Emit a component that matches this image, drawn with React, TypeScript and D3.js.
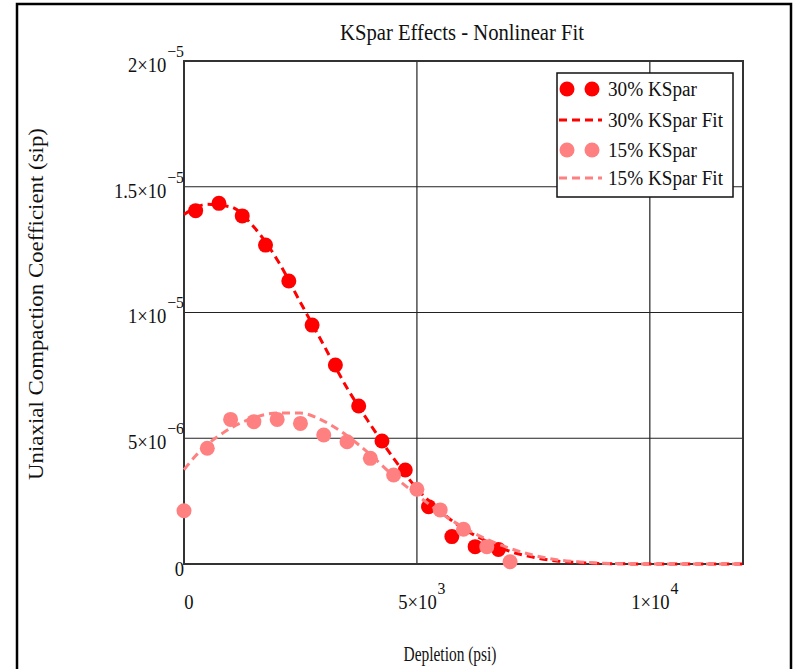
import React from "react";
import * as d3 from "d3";

// 30% KSpar measured points (psi, sip)
const red30X = [250, 750, 1250, 1750, 2250, 2750, 3250, 3750, 4250, 4750, 5250, 5750, 6250, 6750];
const red30Y = [14.05e-6, 14.34e-6, 13.84e-6, 12.68e-6, 11.25e-6, 9.5e-6, 7.91e-6, 6.28e-6, 4.89e-6, 3.74e-6, 2.28e-6, 1.09e-6, 0.69e-6, 0.58e-6];

// 30% KSpar fit
const fit30X = [0, 500, 1000, 1500, 2000, 2500, 3000, 3500, 4000, 4500, 5000, 5500, 6000, 6500, 7000, 7500, 8000, 8500, 9000, 9500, 10000, 11000, 12000];
const fit30Y = [13.9e-6, 14.3e-6, 14.2e-6, 13.4e-6, 12.1e-6, 10.4e-6, 8.7e-6, 7.0e-6, 5.55e-6, 4.2e-6, 3.0e-6, 2.1e-6, 1.4e-6, 0.9e-6, 0.5e-6, 0.27e-6, 0.12e-6, 0.05e-6, 0.02e-6, 0.005e-6, 0, 0, 0];

// 15% KSpar measured points
const pink15X = [0, 500, 1000, 1500, 2000, 2500, 3000, 3500, 4000, 4500, 5000, 5500, 6000, 6500, 7000];
const pink15Y = [2.12e-6, 4.6e-6, 5.75e-6, 5.66e-6, 5.75e-6, 5.59e-6, 5.13e-6, 4.86e-6, 4.2e-6, 3.54e-6, 2.97e-6, 2.15e-6, 1.38e-6, 0.69e-6, 0.09e-6];

// 15% KSpar fit
const fit15X = [0, 250, 500, 750, 1000, 1500, 2000, 2500, 3000, 3500, 4000, 4500, 5000, 5500, 6000, 6500, 7000, 7500, 8000, 8500, 9000, 9500, 10000, 11000, 12000];
const fit15Y = [3.75e-6, 4.3e-6, 4.75e-6, 5.1e-6, 5.4e-6, 5.82e-6, 6.0e-6, 6.0e-6, 5.68e-6, 5.1e-6, 4.35e-6, 3.5e-6, 2.75e-6, 2.05e-6, 1.45e-6, 0.98e-6, 0.62e-6, 0.35e-6, 0.17e-6, 0.08e-6, 0.03e-6, 0.01e-6, 0, 0, 0];

const xTickVals = [0, 5000, 10000];
const xTickMant = ["0", "5×10", "1×10"];
const xTickExp = ["", "3", "4"];
const yTickVals = [0, 5e-6, 1e-5, 1.5e-5, 2e-5];
const yTickMant = ["0", "5×10", "1×10", "1.5×10", "2×10"];
const yTickExp = ["", "−6", "−5", "−5", "−5"];

const legendLabels = ["30% KSpar", "30% KSpar Fit", "15% KSpar", "15% KSpar Fit"];
const legendWidths = [89, 115, 89, 115];

const RED = "#ff0000";
const PINK = "#ff8080";
const FONT = "'Liberation Serif', 'Times New Roman', serif";

function TickLabel(props: { x: number; y: number; anchor: string; mant: string; exp: string }) {
  const { x, y, anchor, mant, exp } = props;
  return (
    <text x={x} y={y} textAnchor={anchor} fontSize={20} fill="#111" transform={`translate(${x},0) scale(0.93,1) translate(${-x},0)`}>
      {mant}
      {exp && (
        <tspan dy={-15} dx={1} fontSize={17}>
          {exp}
        </tspan>
      )}
    </text>
  );
}

export default function App() {
  const x = d3.scaleLinear().domain([0, 12000]).range([184, 743]);
  const y = d3.scaleLinear().domain([0, 2e-5]).range([564, 61]);

  const line = d3
    .line<[number, number]>()
    .x((d) => x(d[0]))
    .y((d) => y(d[1]))
    .curve(d3.curveMonotoneX);

  const fit30 = line(fit30X.map((v, i) => [v, fit30Y[i]] as [number, number])) || "";
  const fit15 = line(fit15X.map((v, i) => [v, fit15Y[i]] as [number, number])) || "";

  const r = 7.5;

  return (
    <svg
      width={793}
      height={669}
      style={{ position: "absolute", left: 0, top: 0, display: "block", background: "#fff" }}
      fontFamily={FONT}
    >
      <rect x={0} y={0} width={793} height={669} fill="#fff" />
      {/* outer frame */}
      <rect x={17} y={4} width={774} height={700} fill="none" stroke="#000" strokeWidth={2.5} />

      {/* title */}
      <text x={462} y={40} textAnchor="middle" fontSize={23} textLength={244} lengthAdjust="spacingAndGlyphs" fill="#111">
        KSpar Effects - Nonlinear Fit
      </text>

      {/* gridlines */}
      {xTickVals.slice(1).map((v) => (
        <line key={"gx" + v} x1={x(v)} x2={x(v)} y1={y(0)} y2={y(2e-5)} stroke="#222" strokeWidth={1.2} />
      ))}
      {yTickVals.slice(1, 4).map((v) => (
        <line key={"gy" + v} x1={x(0)} x2={x(12000)} y1={y(v)} y2={y(v)} stroke="#222" strokeWidth={1.2} />
      ))}

      {/* plot border */}
      <rect x={x(0)} y={y(2e-5)} width={x(12000) - x(0)} height={y(0) - y(2e-5)} fill="none" stroke="#333" strokeWidth={2} />

      {/* data: red points, red fit, pink points, pink fit */}
      <g>
        {red30X.map((v, i) => (
          <circle key={"r" + i} cx={x(v)} cy={y(red30Y[i])} r={r} fill={RED} />
        ))}
      </g>
      <path d={fit30} fill="none" stroke={RED} strokeWidth={3} strokeDasharray="8,5" />
      <g>
        {pink15X.map((v, i) => (
          <circle key={"p" + i} cx={x(v)} cy={y(pink15Y[i])} r={r} fill={PINK} />
        ))}
      </g>
      <path d={fit15} fill="none" stroke={PINK} strokeWidth={3} strokeDasharray="8,5" />

      {/* y tick labels */}
      {yTickVals.map((v, i) => (
        <TickLabel key={"yt" + i} x={184} y={y(v) + (i === 0 ? 12 : 11)} anchor="end" mant={yTickMant[i]} exp={yTickExp[i]} />
      ))}

      {/* x tick labels */}
      {xTickVals.map((v, i) => (
        <TickLabel key={"xt" + i} x={x(v) + 5} y={609} anchor="middle" mant={xTickMant[i]} exp={xTickExp[i]} />
      ))}

      {/* axis titles */}
      <text x={450} y={661} textAnchor="middle" fontSize={22} textLength={93} lengthAdjust="spacingAndGlyphs" fill="#111">
        Depletion (psi)
      </text>
      <text
        transform="translate(43,304) rotate(-90)"
        textAnchor="middle"
        fontSize={21}
        textLength={352}
        lengthAdjust="spacingAndGlyphs"
        fill="#111"
      >
        Uniaxial Compaction Coefficient (sip)
      </text>

      {/* legend */}
      <g>
        <rect x={557} y={73} width={176} height={124} fill="#fff" stroke="#111" strokeWidth={1.5} />
        {legendLabels.map((lab, i) => {
          const cy = [89, 120, 150, 178][i];
          const isPts = i % 2 === 0;
          const col = i < 2 ? RED : PINK;
          return (
            <g key={"lg" + i}>
              {isPts ? (
                <>
                  <circle cx={567} cy={cy} r={7.5} fill={col} />
                  <circle cx={592} cy={cy} r={7.5} fill={col} />
                </>
              ) : (
                <line x1={559} x2={602} y1={cy} y2={cy} stroke={col} strokeWidth={3} strokeDasharray="8,5" />
              )}
              <text x={608} y={cy + 7} fontSize={20} textLength={legendWidths[i]} lengthAdjust="spacingAndGlyphs" fill="#111">
                {lab}
              </text>
            </g>
          );
        })}
      </g>
    </svg>
  );
}
